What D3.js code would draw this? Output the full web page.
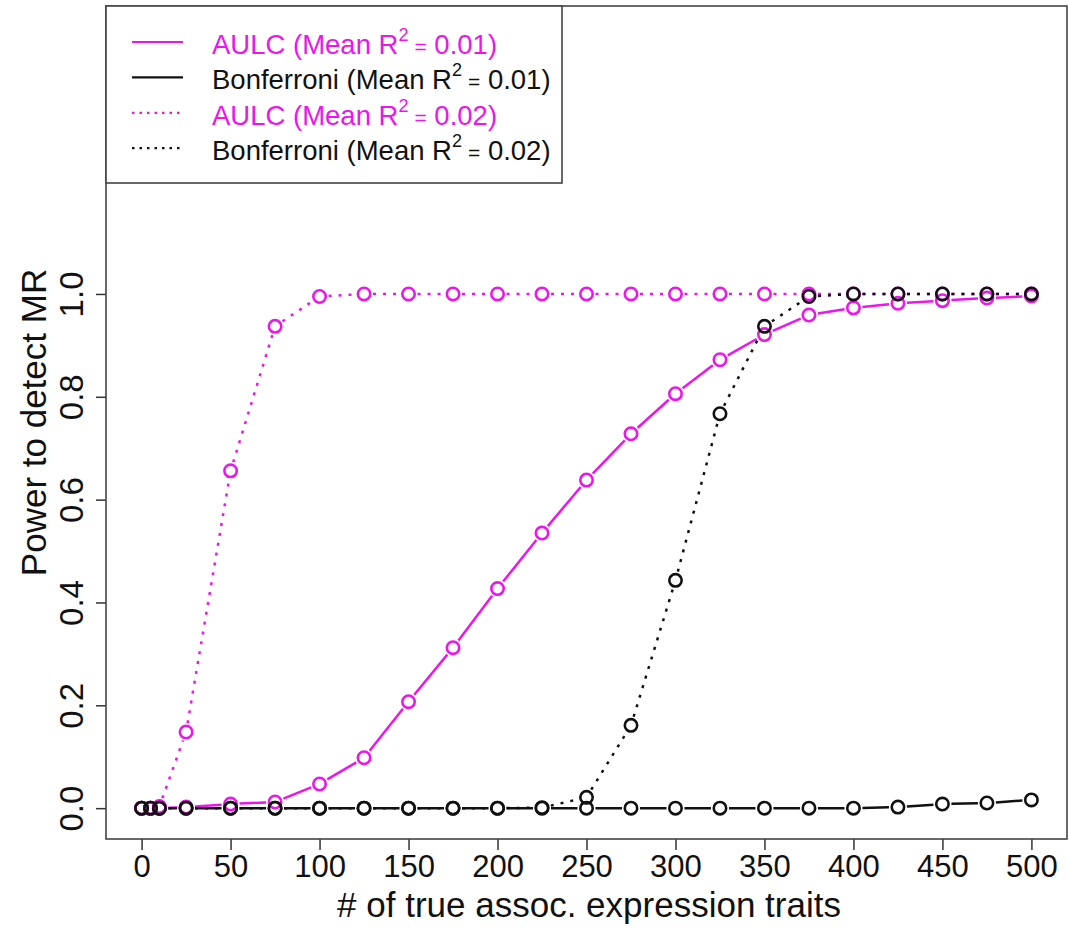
<!DOCTYPE html>
<html lang="en">
<head>
    <meta charset="UTF-8">
    <title>Power to detect MR</title>
    <script src="https://d3js.org/d3.v7.min.js"></script>
    <style>
        html, body { margin: 0; padding: 0; background: #fff; }
        svg { display: block; font-family: "Liberation Sans", Arial, sans-serif; }
    </style>
</head>
<body>
<div id="chart"></div>
<script>
    // x values (number of true associated expression traits)
    const traits = [0, 5, 10, 25, 50, 75, 100, 125, 150, 175, 200, 225, 250, 275, 300, 325, 350, 375, 400, 425, 450, 475, 500];

    // power values
    const aulc01 = [0, 0, 0, 0.002, 0.008, 0.012, 0.047, 0.098, 0.207, 0.312, 0.427, 0.535, 0.638, 0.728, 0.806, 0.872, 0.921, 0.959, 0.973, 0.982, 0.987, 0.992, 0.996];
    const bonf01 = [0, 0, 0, 0, 0, 0, 0, 0, 0, 0, 0, 0, 0, 0, 0, 0, 0, 0, 0, 0.002, 0.008, 0.01, 0.016];
    const aulc02 = [0, 0, 0.003, 0.148, 0.656, 0.937, 0.995, 1, 1, 1, 1, 1, 1, 1, 1, 1, 1, 1, 1, 1, 1, 1, 1];
    const bonf02 = [0, 0, 0, 0, 0, 0, 0, 0, 0, 0, 0, 0.001, 0.021, 0.161, 0.443, 0.767, 0.937, 0.995, 1, 1, 1, 1, 1];

    const xTicks = [0, 50, 100, 150, 200, 250, 300, 350, 400, 450, 500];
    const yTicks = [0, 0.2, 0.4, 0.6, 0.8, 1.0];

    const magenta = "#ea16ea";
    const dotted = "3,7";
    const series = [
        {name: "AULC", r2: "0.01", vals: aulc01, color: magenta, dash: null},
        {name: "Bonferroni", r2: "0.01", vals: bonf01, color: "#111", dash: null},
        {name: "AULC", r2: "0.02", vals: aulc02, color: magenta, dash: dotted},
        {name: "Bonferroni", r2: "0.02", vals: bonf02, color: "#111", dash: dotted}
    ];

    const width = 1069, height = 930,
        pLeft = 106, pRight = 1067, pTop = 6, pBottom = 839,
        radius = 6.2, gap = 9;

    // R style 4% padding around the data range
    const x = d3.scaleLinear().domain([-20, 520]).range([pLeft, pRight]);
    const y = d3.scaleLinear().domain([-0.06, 1.56]).range([pBottom, pTop]);

    const svg = d3.select("#chart").append("svg")
        .attr("width", width)
        .attr("height", height);

    // axes
    const gx = svg.append("g")
        .attr("transform", `translate(0,${pBottom})`)
        .call(d3.axisBottom(x).tickValues(xTicks).tickSize(11).tickPadding(5).tickSizeOuter(0));
    gx.select(".domain").remove();
    gx.selectAll("line").attr("stroke", "#333").attr("stroke-width", 1.5);
    gx.selectAll("text").attr("font-size", 31).attr("fill", "#111")
        .style("font-family", "'Liberation Sans', Arial, sans-serif");

    const gy = svg.append("g")
        .attr("transform", `translate(${pLeft},0)`)
        .call(d3.axisLeft(y).tickValues(yTicks).tickSize(10).tickFormat(d3.format(".1f")).tickSizeOuter(0));
    gy.select(".domain").remove();
    gy.selectAll("line").attr("stroke", "#333").attr("stroke-width", 1.5);
    gy.selectAll("text")
        .attr("x", null).attr("dy", null)
        .attr("transform", "translate(-23,0) rotate(-90)")
        .attr("text-anchor", "middle")
        .attr("font-size", 33).attr("fill", "#111")
        .style("font-family", "'Liberation Sans', Arial, sans-serif");

    // titles
    svg.append("text")
        .attr("x", 589).attr("y", 917)
        .attr("text-anchor", "middle")
        .attr("font-size", 35).attr("fill", "#111")
        .text("# of true assoc. expression traits");
    svg.append("text")
        .attr("transform", `translate(46,${(pTop + pBottom) / 2}) rotate(-90)`)
        .attr("text-anchor", "middle")
        .attr("font-size", 35).attr("fill", "#111")
        .text("Power to detect MR");

    // like R type="b": segments stop short of the points
    function gappedPath(vals) {
        const pts = vals.map((v, i) => [x(traits[i]), y(v)]);
        let d = "";
        for (let i = 0; i < pts.length - 1; i++) {
            const [x0, y0] = pts[i], [x1, y1] = pts[i + 1];
            const len = Math.hypot(x1 - x0, y1 - y0);
            if (len <= 2 * gap) continue;
            const ux = (x1 - x0) / len, uy = (y1 - y0) / len;
            d += `M${x0 + ux * gap},${y0 + uy * gap}L${x1 - ux * gap},${y1 - uy * gap}`;
        }
        return d;
    }

    series.forEach(s => {
        const g = svg.append("g");
        g.append("path")
            .attr("d", gappedPath(s.vals))
            .attr("fill", "none")
            .attr("stroke", s.color)
            .attr("stroke-width", 2.5)
            .attr("stroke-dasharray", s.dash);
        g.selectAll("circle").data(s.vals).join("circle")
            .attr("cx", (d, i) => x(traits[i]))
            .attr("cy", d => y(d))
            .attr("r", radius)
            .attr("fill", "none")
            .attr("stroke", s.color)
            .attr("stroke-width", 2.6);
    });

    // plot frame
    svg.append("rect")
        .attr("x", pLeft).attr("y", pTop)
        .attr("width", pRight - pLeft).attr("height", pBottom - pTop)
        .attr("fill", "none").attr("stroke", "#444").attr("stroke-width", 1.6);

    // legend
    const leg = svg.append("g");
    leg.append("rect")
        .attr("x", pLeft).attr("y", pTop)
        .attr("width", 456).attr("height", 177)
        .attr("fill", "#fff").attr("stroke", "#444").attr("stroke-width", 1.6);
    series.forEach((s, i) => {
        const ly = 42 + i * 35.4;
        leg.append("line")
            .attr("x1", 132).attr("x2", 183)
            .attr("y1", ly).attr("y2", ly)
            .attr("stroke", s.color).attr("stroke-width", 2.2)
            .attr("stroke-dasharray", s.dash ? "2.5,5" : null);
        const t = leg.append("text")
            .attr("x", 212).attr("y", ly + 12)
            .attr("font-size", 27.5).attr("fill", s.color);
        t.append("tspan").text(`${s.name} (Mean R`);
        t.append("tspan").attr("dy", -13).attr("font-size", 18).text("2");
        t.append("tspan").attr("dy", 13).attr("dx", 6).attr("font-size", 21).text("=");
        t.append("tspan").text(` ${s.r2})`);
    });
</script>
</body>
</html>
